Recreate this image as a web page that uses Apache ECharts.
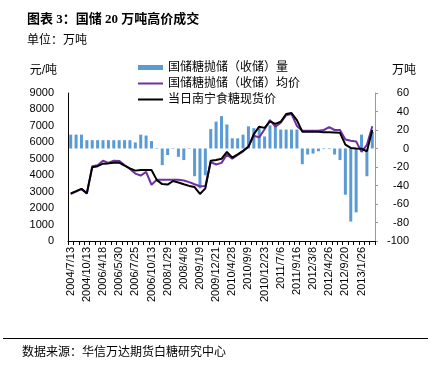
<!DOCTYPE html>
<html>
<head>
<meta charset="utf-8">
<script src="https://cdn.jsdelivr.net/npm/echarts@6/dist/echarts.min.js"></script>
<style>html,body{margin:0;padding:0;background:#fff;}#c{width:438px;height:366px;}</style>
</head>
<body>
<div id="c"></div>
<script>
const tickLabels = ['2004/7/13','2004/10/13','2006/4/18','2006/5/30','2006/7/25','2006/10/13','2008/1/29','2008/4/8','2009/1/9','2009/12/21','2010/4/28','2010/9/9','2010/12/23','2011/7/6','2011/9/16','2012/3/8','2012/4/26','2012/9/20','2013/1/26'];
const volume = [15,15,15,9,9,9,9,9,9,9,9,9,6.5,15,14,8,-0.5,-18,-7,-0.5,-9,-12.5,-0.5,-30,-43,-29,21,29,35,26,11,11,15,24,22,22,13,25,26,20.5,20.5,20.5,20.5,-17,-6.5,-5.5,-3,-0.7,-0.7,-6.5,-12.5,-50,-79,-69,15,-30,18];
const avgPrice = [2850,3000,3170,2880,4550,4600,4880,4750,4880,4870,4620,4380,4100,3980,4200,3420,3720,3730,3730,3720,3720,3680,3580,3450,3330,3350,4800,4650,4750,5250,5000,5230,5450,5750,6400,6300,6800,7350,6950,7200,7650,7720,7000,6700,6700,6700,6700,6750,6930,6750,6750,6170,6100,6050,5420,5850,6980];
const spotPrice = [2900,3030,3170,2900,4480,4550,4700,4720,4760,4760,4580,4420,4280,4320,4320,4320,3700,3460,3430,3650,3560,3450,3350,3280,2860,3200,4880,4930,5000,5420,5070,5270,5480,5730,6500,6950,6880,7270,7120,7250,7720,7780,7350,6650,6650,6650,6640,6620,6610,6600,6580,5860,5660,5620,5610,5450,6750];
const seriesNames = ['国储糖抛储（收储）量','国储糖抛储（收储）均价','当日南宁食糖现货价'];

const categories = volume.map((v, i) => (i % 3 === 0 ? tickLabels[i / 3] : ''));
const FONT = "'Liberation Sans', 'Noto Sans CJK SC', sans-serif";
const LINE_ICON = 'path://M0,0L12.5,0L12.5,1L0,1Z';

const chart = echarts.init(document.getElementById('c'), null, {renderer: 'canvas'});
chart.setOption({
  animation: false,
  backgroundColor: '#fff',
  textStyle: {fontFamily: FONT, color: '#000'},
  title: {
    text: '图表 3：国储 20 万吨高价成交',
    subtext: '单位：万吨',
    left: 22, top: 8, itemGap: 9,
    textStyle: {fontSize: 13, fontWeight: 'bold', color: '#000', fontFamily: "'Liberation Serif', 'Noto Sans CJK SC', serif"},
    subtextStyle: {fontSize: 12, color: '#000', fontFamily: FONT}
  },
  legend: {
    orient: 'vertical', left: 133, top: 56,
    itemWidth: 25, itemHeight: 5, itemGap: 3, symbolKeepAspect: true,
    textStyle: {fontSize: 12, color: '#000', lineHeight: 13},
    data: [
      {name: seriesNames[0], icon: 'rect'},
      {name: seriesNames[1], icon: LINE_ICON, itemStyle: {color: '#7030a0'}},
      {name: seriesNames[2], icon: LINE_ICON, itemStyle: {color: '#000'}}
    ]
  },
  grid: {left: 68, right: 63, top: 93, bottom: 125, containLabel: false},
  xAxis: {
    type: 'category', data: categories, boundaryGap: true,
    axisLine: {lineStyle: {color: '#000', width: 1}},
    axisTick: {show: true, interval: 0, length: 4, lineStyle: {color: '#000'}},
    axisLabel: {interval: 0, rotate: 90, fontSize: 11, color: '#000', margin: 6},
    splitLine: {show: false}
  },
  yAxis: [{
    type: 'value', min: 0, max: 9000, interval: 1000,
    name: '元/吨', nameLocation: 'end', nameGap: 16,
    nameTextStyle: {fontSize: 12, color: '#000', align: 'right', padding: [0, 11, 0, 0]},
    axisLine: {show: true, lineStyle: {color: '#000'}},
    axisTick: {show: false},
    axisLabel: {fontSize: 11, color: '#000', margin: 14, formatter: v => String(v)},
    splitLine: {show: false}
  }, {
    type: 'value', min: -100, max: 60, interval: 20, position: 'right',
    name: '万吨', nameLocation: 'end', nameGap: 16,
    nameTextStyle: {fontSize: 12, color: '#000', align: 'left', padding: [0, 0, 0, 17]},
    axisLine: {show: true, lineStyle: {color: '#999'}},
    axisTick: {show: true, length: 3, lineStyle: {color: '#999'}},
    axisLabel: {fontSize: 11, color: '#000', align: 'right', margin: 34, formatter: v => String(v)},
    splitLine: {show: false}
  }],
  series: [{
    name: seriesNames[0], type: 'bar', yAxisIndex: 1, data: volume,
    barWidth: 3, itemStyle: {color: '#5b9bd5'}, z: 1
  }, {
    name: seriesNames[1], type: 'line', yAxisIndex: 0, data: avgPrice,
    symbol: 'none', showSymbol: false, lineStyle: {color: '#7030a0', width: 2}, itemStyle: {color: '#7030a0'}, z: 2
  }, {
    name: seriesNames[2], type: 'line', yAxisIndex: 0, data: spotPrice,
    symbol: 'none', showSymbol: false, lineStyle: {color: '#000', width: 2}, itemStyle: {color: '#000'}, z: 3
  }],
  graphic: [{
    type: 'line', shape: {x1: 3, y1: 338.5, x2: 428, y2: 338.5},
    style: {stroke: '#000', lineWidth: 1}
  }, {
    type: 'text', left: 22, top: 347,
    style: {text: '数据来源：华信万达期货白糖研究中心', fontSize: 12, fill: '#000', fontFamily: FONT}
  }]
});
</script>
</body>
</html>
